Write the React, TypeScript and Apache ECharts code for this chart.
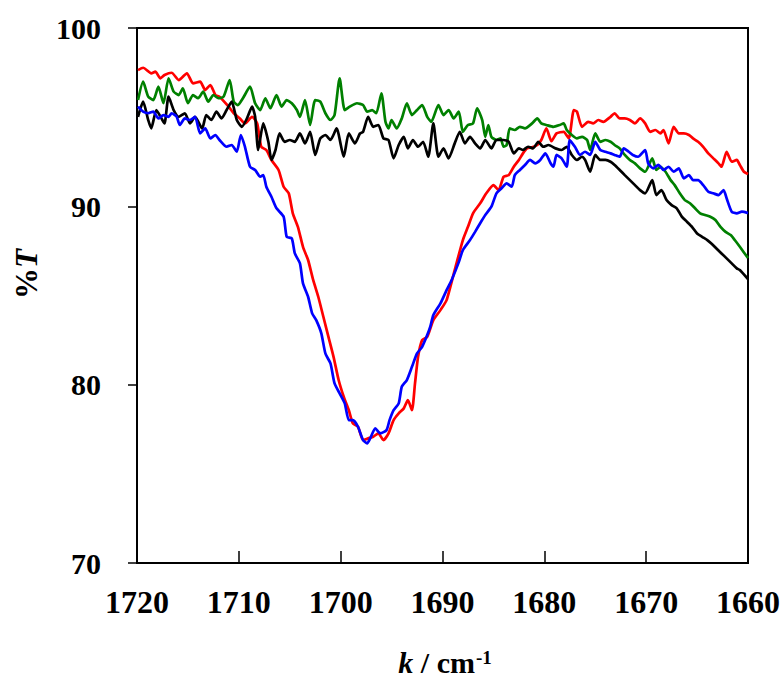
import React, { useEffect, useRef } from "react";
import * as echarts from "echarts";

// Wavenumber (cm-1) and %T readings for each spectrum
const kRed = [1719.9,1719.4,1718.6,1718.2,1717.7,1717.3,1716.6,1715.9,1715.1,1714.5,1713.8,1713.3,1712.8,1712.3,1711.9,1711.0,1710.5,1709.9,1709.4,1708.7,1708.2,1707.8,1707.3,1706.8,1706.1,1705.6,1705.1,1704.7,1704.2,1703.7,1703.2,1702.7,1702.2,1701.7,1701.2,1700.7,1700.2,1699.7,1699.2,1698.8,1698.3,1697.8,1697.3,1696.8,1696.3,1695.8,1695.3,1694.8,1694.3,1693.8,1693.4,1693.0,1692.7,1692.4,1692.0,1691.5,1690.9,1690.2,1689.6,1688.8,1688.0,1687.5,1687.0,1686.3,1685.7,1685.0,1684.5,1684.0,1683.5,1683.0,1682.5,1682.1,1681.7,1681.2,1680.7,1680.3,1679.8,1679.3,1678.8,1678.1,1677.6,1677.1,1676.8,1676.3,1675.7,1675.2,1674.7,1674.2,1673.5,1673.1,1672.6,1672.1,1671.6,1671.1,1670.6,1670.1,1669.6,1669.1,1668.6,1668.3,1667.8,1667.3,1666.8,1666.3,1665.8,1665.4,1664.9,1664.4,1663.9,1663.4,1662.9,1662.6,1662.1,1661.6,1661.1,1660.8,1660.4,1660.0];
const tRed = [97.64,97.77,97.46,97.55,97.18,97.36,97.49,97.08,97.46,96.9,96.99,96.52,96.8,96.24,96.15,95.59,95.22,94.93,94.65,95.02,94.65,93.34,93.16,92.6,92.04,91.1,90.73,89.61,88.85,87.73,86.99,85.87,84.93,83.81,82.68,81.56,80.26,79.32,78.57,77.83,77.64,76.89,76.99,77.08,77.27,76.89,77.27,78.01,78.39,78.67,79.13,78.57,80.07,81.56,82.5,82.68,83.62,84.18,84.74,86.43,88.11,88.85,89.61,90.17,90.73,91.19,90.91,91.66,91.75,92.22,92.6,92.97,93.25,93.31,93.44,93.72,94.37,93.65,94.09,94.18,93.81,95.4,95.31,94.46,94.74,94.65,94.84,94.74,95.02,95.22,94.93,94.93,94.84,94.65,94.93,94.65,94.18,94.28,94.09,94.28,93.53,94.46,94.09,94.09,94.0,93.81,93.62,93.34,92.97,92.69,92.41,92.22,93.06,92.5,92.6,92.32,91.94,91.81];

const kBlue = [1719.9,1719.4,1718.9,1718.4,1717.9,1717.4,1716.9,1716.6,1716.1,1715.8,1715.3,1714.8,1714.3,1713.8,1713.3,1712.8,1712.3,1711.9,1711.2,1710.7,1710.2,1709.8,1709.4,1708.9,1708.4,1707.9,1707.6,1707.3,1706.8,1706.3,1705.6,1705.3,1704.8,1704.5,1704.0,1703.7,1703.2,1702.8,1702.4,1701.9,1701.5,1701.0,1700.6,1700.1,1699.6,1699.2,1698.8,1698.3,1697.8,1697.4,1697.1,1696.6,1696.1,1695.5,1695.2,1694.8,1694.3,1694.0,1693.5,1693.0,1692.5,1692.0,1691.5,1691.2,1690.9,1690.2,1689.6,1689.1,1688.4,1688.0,1687.3,1686.8,1686.3,1685.8,1685.2,1684.7,1684.2,1683.7,1683.2,1682.9,1682.4,1681.9,1681.4,1680.9,1680.4,1679.9,1679.4,1679.1,1678.8,1678.3,1677.8,1677.5,1677.0,1676.5,1676.0,1675.5,1675.0,1674.5,1674.0,1673.5,1673.1,1672.6,1672.2,1671.7,1671.3,1670.8,1670.1,1669.8,1669.3,1668.8,1668.3,1667.8,1667.3,1666.8,1666.3,1665.8,1665.4,1664.9,1664.4,1663.9,1663.4,1662.9,1662.4,1662.1,1661.6,1661.1,1660.6,1660.0];
const tBlue = [95.59,95.31,95.22,95.31,94.93,95.12,95.02,95.22,95.02,94.56,94.93,94.84,95.02,94.09,94.37,93.81,94.0,93.72,93.34,93.44,93.06,94.0,93.34,92.22,92.04,91.66,91.75,91.1,90.54,89.89,89.42,88.29,88.2,87.36,86.8,85.68,84.93,84.0,83.62,82.88,81.75,81.19,80.07,79.51,78.95,78.01,78.01,77.64,76.89,76.71,76.99,77.55,77.27,77.45,78.01,78.57,78.95,79.88,80.26,81.0,81.75,82.12,82.78,83.25,83.9,84.56,85.3,85.87,86.87,87.55,88.11,88.57,89.05,89.51,89.98,90.73,91.01,91.29,91.1,91.75,92.04,92.32,92.6,92.41,92.6,92.97,92.43,92.22,92.88,92.69,92.22,93.72,93.34,92.88,93.06,92.88,93.62,93.16,93.06,92.97,92.88,92.78,93.25,93.06,92.88,92.78,93.16,92.41,92.13,92.32,92.04,92.22,91.94,92.13,91.57,91.75,91.47,91.47,91.19,90.82,90.73,90.63,90.91,90.45,89.7,89.61,89.7,89.62];

const kGreen = [1719.9,1719.4,1718.9,1718.4,1717.9,1717.4,1716.9,1716.4,1715.9,1715.5,1715.0,1714.5,1714.0,1713.5,1713.0,1712.5,1712.0,1711.5,1710.9,1710.5,1710.1,1709.6,1708.9,1708.4,1707.9,1707.4,1706.9,1706.3,1705.8,1705.3,1704.8,1704.3,1704.0,1703.5,1703.0,1702.5,1702.0,1701.5,1701.0,1700.6,1700.1,1699.6,1699.1,1698.4,1697.8,1697.4,1696.9,1696.5,1696.0,1695.6,1695.3,1695.0,1694.5,1694.0,1693.5,1693.0,1692.5,1692.0,1691.5,1691.1,1690.4,1689.9,1689.4,1688.9,1688.4,1688.0,1687.5,1687.0,1686.6,1686.1,1685.8,1685.5,1685.2,1684.7,1684.3,1684.0,1683.7,1683.4,1682.9,1682.4,1681.9,1681.2,1680.7,1680.3,1679.8,1679.1,1678.5,1678.1,1677.8,1677.3,1676.8,1676.3,1675.8,1675.5,1675.0,1674.5,1674.0,1673.5,1673.1,1672.6,1672.1,1671.6,1671.1,1670.6,1670.1,1669.4,1669.0,1668.6,1668.1,1667.6,1667.2,1666.7,1666.2,1665.7,1665.2,1664.7,1664.2,1663.7,1663.2,1662.7,1662.2,1661.7,1661.3,1660.8,1660.0];
const tGreen = [95.96,96.99,96.15,95.96,96.71,95.78,97.18,96.43,96.24,96.62,95.78,96.24,96.06,96.43,95.87,96.24,96.06,96.15,97.08,95.87,95.68,96.06,96.71,95.78,95.4,96.06,95.5,96.24,95.59,95.96,95.78,95.4,95.02,95.96,94.56,95.96,95.87,95.22,94.84,95.12,97.18,95.4,95.59,95.78,95.68,95.31,95.4,95.22,96.34,94.74,94.37,94.84,94.37,94.93,95.78,95.12,95.4,95.68,95.02,94.74,95.68,95.12,95.4,94.93,95.31,94.18,94.56,94.65,95.5,94.84,93.9,94.56,93.9,93.72,93.81,93.34,93.44,94.37,94.28,94.46,94.37,94.65,94.93,94.65,94.56,94.46,94.56,94.65,94.28,94.0,93.81,93.9,93.72,93.16,94.09,93.62,93.72,93.62,93.44,93.25,92.88,92.6,92.41,92.13,91.94,92.69,92.04,92.22,91.94,91.47,91.19,90.73,90.35,90.17,89.89,89.61,89.51,89.42,89.23,88.85,88.57,88.39,88.11,87.73,87.1];

const kBlack = [1719.9,1719.4,1718.9,1718.6,1718.1,1717.6,1717.3,1716.9,1716.4,1715.9,1715.3,1714.8,1714.3,1713.6,1713.2,1712.7,1712.2,1711.7,1711.2,1710.7,1710.2,1709.7,1709.2,1708.7,1708.4,1708.1,1707.6,1707.1,1706.8,1706.4,1706.0,1705.5,1705.0,1704.5,1704.0,1703.5,1703.0,1702.5,1702.0,1701.5,1701.0,1700.4,1699.7,1699.2,1698.6,1698.1,1697.8,1697.3,1696.8,1696.3,1695.8,1695.3,1694.8,1694.3,1693.8,1693.4,1692.9,1692.4,1691.9,1691.4,1690.9,1690.4,1689.9,1689.4,1688.8,1688.3,1687.8,1687.3,1686.8,1686.3,1685.8,1685.2,1684.7,1684.0,1683.5,1683.0,1682.5,1682.1,1681.6,1681.1,1680.6,1680.1,1679.6,1678.9,1678.3,1677.8,1677.3,1676.8,1676.3,1676.0,1675.5,1675.0,1674.5,1674.0,1673.5,1673.1,1672.6,1672.1,1671.6,1671.1,1670.6,1670.1,1669.4,1669.0,1668.5,1668.0,1667.5,1667.0,1666.5,1666.0,1665.5,1665.0,1664.5,1664.0,1663.6,1663.1,1662.6,1662.1,1661.6,1661.1,1660.8,1660.0];
const tBlack = [95.02,95.87,94.84,94.37,95.4,94.93,94.65,96.15,95.4,95.02,95.22,94.65,95.02,94.37,95.12,94.84,95.31,94.93,95.4,95.87,94.84,94.46,94.93,95.59,95.02,93.16,94.65,93.62,92.6,93.16,94.09,93.62,93.72,93.62,94.09,93.53,94.18,92.88,93.81,94.0,93.72,94.37,92.78,94.09,93.53,94.09,94.18,95.02,94.46,94.56,93.81,93.72,92.69,93.44,93.9,93.25,93.72,93.34,93.62,92.78,94.65,92.78,93.25,92.69,93.53,94.18,93.53,93.9,93.53,93.25,93.72,93.25,93.72,93.72,93.62,92.97,93.25,93.16,93.34,93.25,93.62,93.34,93.44,93.25,93.16,93.34,92.88,92.6,92.78,92.6,91.94,92.88,92.6,92.6,92.5,92.32,92.04,91.75,91.47,91.19,90.91,90.73,91.47,90.63,90.91,90.35,90.07,89.89,89.42,89.14,88.85,88.48,88.29,88.11,87.92,87.64,87.36,87.08,86.8,86.52,86.43,85.92];

const xTicks = { min: 1660, max: 1720, step: 10 };
const yTicks = { min: 70, max: 100, step: 10 };

const FONT = "'Liberation Serif', 'Times New Roman', serif";

function pairs(k: number[], t: number[]) {
  return k.map((v, i) => [v, t[i]]);
}

export default function App() {
  const ref = useRef<HTMLDivElement>(null);
  useEffect(() => {
    if (!ref.current) return;
    const chart = echarts.init(ref.current, null, { renderer: "svg" });
    const mk = (name: string, k: number[], t: number[], color: string) => ({
      name,
      type: "line",
      data: pairs(k, t),
      showSymbol: false,
      symbol: "none",
      smooth: 0.2,
      lineStyle: { color, width: 2.7 },
      itemStyle: { color },
      z: 2,
    });
    chart.setOption({
      animation: false,
      backgroundColor: "#fff",
      grid: {
        left: 137,
        top: 28,
        right: 32,
        bottom: 117,
        show: true,
        borderColor: "#000",
        borderWidth: 2,
        backgroundColor: "transparent",
        outerBoundsMode: "none",
      },
      xAxis: {
        type: "value",
        inverse: true,
        min: xTicks.min,
        max: xTicks.max,
        interval: xTicks.step,
        axisLine: { show: true, lineStyle: { color: "#000", width: 2 } },
        axisTick: { show: true, inside: true, length: 12, lineStyle: { color: "#000", width: 1.5 } },
        axisLabel: {
          color: "#000",
          fontFamily: FONT,
          fontWeight: "bold",
          fontSize: 32,
          margin: 23,
          showMinLabel: true,
          showMaxLabel: true,
          formatter: (v: number) => String(v),
        },
        splitLine: { show: false },
      },
      yAxis: {
        type: "value",
        min: yTicks.min,
        max: yTicks.max,
        interval: yTicks.step,
        axisLine: { show: true, lineStyle: { color: "#000", width: 2 } },
        axisTick: { show: true, inside: false, length: 9, lineStyle: { color: "#000", width: 1.5 } },
        axisLabel: {
          color: "#000",
          fontFamily: FONT,
          fontWeight: "bold",
          fontSize: 30,
          margin: 36,
          formatter: (v: number) => String(v),
        },
        splitLine: { show: false },
      },
      graphic: [
        {
          type: "text",
          x: 26,
          y: 274,
          rotation: Math.PI / 2,
          style: {
            text: "{n|%}{i|T}",
            align: "center",
            verticalAlign: "middle",
            rich: {
              n: { fontFamily: FONT, fontWeight: "bold", fontSize: 31, fill: "#000" },
              i: { fontFamily: FONT, fontWeight: "bold", fontStyle: "italic", fontSize: 31, fill: "#000" },
            },
          },
        },
        {
          type: "text",
          x: 475,
          y: 662,
          style: {
            text: "{i|k}{n| / cm}",
            align: "right",
            verticalAlign: "middle",
            rich: {
              n: { fontFamily: FONT, fontWeight: "bold", fontSize: 30, fill: "#000" },
              i: { fontFamily: FONT, fontWeight: "bold", fontStyle: "italic", fontSize: 30, fill: "#000" },
            },
          },
        },
        {
          type: "text",
          x: 476,
          y: 657,
          style: {
            text: "-1",
            align: "left",
            verticalAlign: "middle",
            fontFamily: FONT,
            fontWeight: "bold",
            fontSize: 19,
            fill: "#000",
          },
        },
      ],
      series: [
        mk("red", kRed, tRed, "#ff0000"),
        mk("green", kGreen, tGreen, "#008000"),
        mk("black", kBlack, tBlack, "#000000"),
        mk("blue", kBlue, tBlue, "#0000ff"),
      ],
    });
    return () => chart.dispose();
  }, []);
  return <div ref={ref} style={{ width: 780, height: 680, position: "absolute", left: 0, top: 0 }} />;
}
